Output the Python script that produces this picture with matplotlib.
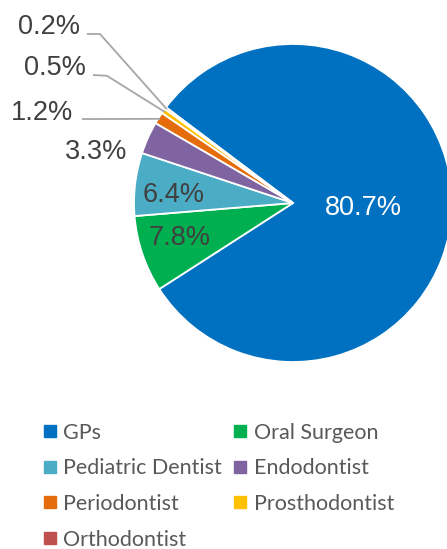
import matplotlib.pyplot as plt
from matplotlib.lines import Line2D
import numpy as np

categories = ["GPs", "Oral Surgeon", "Pediatric Dentist", "Endodontist",
              "Periodontist", "Prosthodontist", "Orthodontist"]
shares = [80.7, 7.8, 6.4, 3.3, 1.2, 0.5, 0.2]
colors = ["#0070C0", "#00B050", "#4BACC6", "#8064A2",
          "#E46C0A", "#FFC000", "#C0504D"]

# label placement (data units, pie radius = 1)
label_pos = [(0.44, -0.03), (-0.71, -0.22), (-0.75, 0.05), (-1.04, 0.32),
             (-1.38, 0.566), (-1.30, 0.849), (-1.34, 1.107)]
label_ha = ["center", "center", "center", "right", "right", "right", "right"]
# leader lines: (start, elbow) for the small slices
leaders = {4: [(-1.327, 0.528), (-1.25, 0.528)],
           5: [(-1.258, 0.805), (-1.17, 0.80)],
           6: [(-1.296, 1.063), (-1.214, 1.063)]}

W, H, DPI = 447, 549, 100
cx, cy, R = 293, 203, 159

fig = plt.figure(figsize=(W / DPI, H / DPI), dpi=DPI)
ax = fig.add_axes([0, 0, 1, 1])
ax.axis("off")

wedges, _ = ax.pie(shares, colors=colors, startangle=143, counterclock=False,
                   radius=1, center=(0, 0),
                   wedgeprops=dict(edgecolor="white", linewidth=1.3))
ax.set_xlim(-cx / R, (W - cx) / R)
ax.set_ylim(-(H - cy) / R, cy / R)
ax.set_aspect("auto")

for i, w in enumerate(wedges):
    txt = f"{shares[i]:.1f}%"
    col = "white" if i == 0 else "#404040"
    x, y = label_pos[i]
    ax.text(x, y, txt, ha=label_ha[i], va="center", fontsize=19.5,
            color=col, family="Liberation Sans")
    if i in leaders:
        mid = np.deg2rad((w.theta1 + w.theta2) / 2)
        end = (0.99 * np.cos(mid), 0.99 * np.sin(mid))
        pts = leaders[i] + [end]
        ax.plot([p[0] for p in pts], [p[1] for p in pts], color="#A6A6A6",
                lw=1.3, solid_capstyle="butt")

order = [0, 2, 4, 6, 1, 3, 5]
handles = [Line2D([], [], marker="s", ls="none", markersize=8,
                  markerfacecolor=colors[i], markeredgecolor=colors[i])
           for i in order]
leg = fig.legend(handles, [categories[i] for i in order], ncol=2,
                 loc="upper left", bbox_to_anchor=(43 / W, 1 - 423 / H),
                 frameon=False, labelcolor="#595959",
                 handlelength=0.65, handletextpad=0.3, labelspacing=0.72,
                 columnspacing=0.52, borderpad=0, borderaxespad=0,
                 prop={"family": "Lato", "size": 15.5})

fig.savefig("out.png", dpi=DPI)
